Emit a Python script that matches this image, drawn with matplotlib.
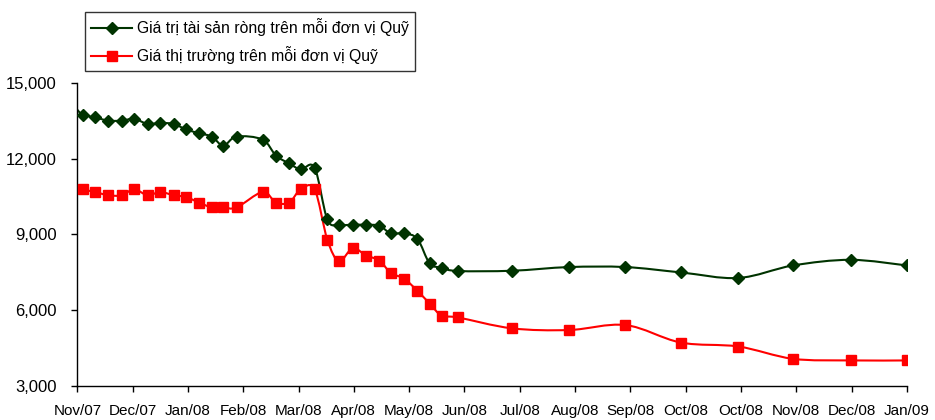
import matplotlib
matplotlib.use("Agg")
import matplotlib.pyplot as plt
from matplotlib.path import Path
from matplotlib.patches import PathPatch
from matplotlib.lines import Line2D
from matplotlib.ticker import FuncFormatter

plt.rcParams['font.family'] = ['Liberation Sans', 'DejaVu Sans']

# x position of each weekly/monthly observation, in month-tick units (0 = Nov/07)
x_pos = [0.0, 0.10, 0.32, 0.56, 0.80, 1.03, 1.27, 1.50, 1.74, 1.96, 2.20,
         2.43, 2.64, 2.88, 3.35, 3.59, 3.83, 4.04, 4.29, 4.52, 4.73, 4.98,
         5.22, 5.46, 5.67, 5.91, 6.15, 6.37, 6.59, 6.88, 7.86, 8.89, 9.91,
         10.91, 11.95, 12.94, 13.98, 15.0]

nav_per_unit = [13930, 13725, 13630, 13500, 13500, 13570, 13370, 13410, 13370,
                13160, 13000, 12870, 12515, 12870, 12750, 12120, 11805, 11570,
                11636, 9590, 9380, 9380, 9380, 9340, 9040, 9040, 8820, 7850,
                7680, 7550, 7560, 7706, 7706, 7494, 7274, 7769, 7993, 7769]

price_per_unit = [10950, 10783, 10677, 10547, 10547, 10783, 10547, 10677, 10547,
                  10480, 10260, 10064, 10064, 10064, 10677, 10260, 10260, 10783,
                  10783, 8790, 7942, 8453, 8162, 7965, 7470, 7246, 6763, 6263,
                  5780, 5713, 5281, 5214, 5411, 4719, 4562, 4075, 4011, 4011]

tick_labels = ['Nov/07', 'Dec/07', 'Jan/08', 'Feb/08', 'Mar/08', 'Apr/08',
               'May/08', 'Jun/08', 'Jul/08', 'Aug/08', 'Sep/08', 'Oct/08',
               'Oct/08', 'Nov/08', 'Dec/08', 'Jan/09']

series_names = ['Giá trị tài sản ròng trên mỗi đơn vị Quỹ',
                'Giá thị trường trên mỗi đơn vị Quỹ']

GREEN = '#003300'
RED = '#FF0000'


# Excel style smoothed line: Catmull-Rom turned into cubic Bezier segments
def smooth_path(xs, ys):
    pts = list(zip(xs, ys))
    n = len(pts)
    verts = [pts[0]]
    codes = [Path.MOVETO]
    for i in range(n - 1):
        p0 = pts[i - 1] if i > 0 else pts[i]
        p1 = pts[i]
        p2 = pts[i + 1]
        p3 = pts[i + 2] if i + 2 < n else pts[i + 1]
        c1 = (p1[0] + (p2[0] - p0[0]) / 6, p1[1] + (p2[1] - p0[1]) / 6)
        c2 = (p2[0] - (p3[0] - p1[0]) / 6, p2[1] - (p3[1] - p1[1]) / 6)
        verts += [c1, c2, p2]
        codes += [Path.CURVE4] * 3
    return Path(verts, codes)


fig = plt.figure(figsize=(9.35, 4.2), dpi=100)
ax = fig.add_axes([0.0827, 0.081, 0.9873 - 0.0827 - 0.0173, 0.722])

for vals, col, mk, ms in [(nav_per_unit, GREEN, 'D', 6),
                          (price_per_unit, RED, 's', 6.5)]:
    ax.add_patch(PathPatch(smooth_path(x_pos, vals), fill=False,
                           edgecolor=col, lw=1.5, zorder=2))
    ax.plot(x_pos[1:], vals[1:], linestyle='none', marker=mk, ms=ms,
            color=col, mec=col, zorder=3)

ax.set_xlim(0, 15)
ax.set_ylim(3000, 15000)
ax.set_yticks(range(3000, 15001, 3000))
ax.yaxis.set_major_formatter(FuncFormatter(lambda v, p: f'{int(v):,}'))
ax.set_xticks(range(len(tick_labels)))
ax.set_xticklabels(tick_labels)

for s in ['top', 'right']:
    ax.spines[s].set_visible(False)
for s in ['left', 'bottom']:
    ax.spines[s].set_color('black')
    ax.spines[s].set_linewidth(1.0)

ax.tick_params(axis='y', length=4, width=1, pad=11, labelsize=12)
ax.tick_params(axis='x', length=4, width=1, pad=9, labelsize=11)

handles = [Line2D([], [], color=GREEN, lw=1.5, marker='D', ms=6),
           Line2D([], [], color=RED, lw=1.5, marker='s', ms=6.5)]
leg = fig.legend(handles, series_names, loc='upper left',
                 bbox_to_anchor=(0.091, 0.972), fontsize=11.3, frameon=True,
                 fancybox=False, shadow=False, handlelength=2.6,
                 handletextpad=0.3, borderpad=0.4, labelspacing=0.65,
                 borderaxespad=0)
leg.get_frame().set_edgecolor('black')
leg.get_frame().set_linewidth(1.0)

fig.savefig('out.png', dpi=100)
